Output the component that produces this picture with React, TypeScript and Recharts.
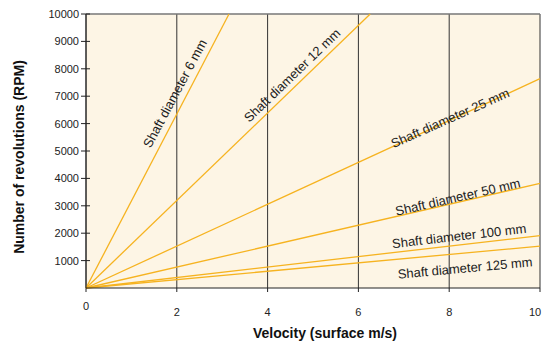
import React from 'react';
import { LineChart, Line, XAxis, YAxis, CartesianGrid, ReferenceLine, ReferenceDot, Label } from 'recharts';

const diameters = ['6', '12', '25', '50', '100', '125'];
const endVelocity = [3.15, 6.26, 10, 10, 10, 10];
const endRpm = [10000, 10000, 7640, 3820, 1910, 1530];
const labelVelocity = [1.96, 4.54, 8.02, 8.19, 8.22, 8.35];
const labelRpm = [7100, 7760, 6200, 3320, 1900, 730];
const labelAngle = [-62, -44, -24, -13, -6.6, -5.3];
const xTicks = [0, 2, 4, 6, 8, 10];
const yTicks = [1000, 2000, 3000, 4000, 5000, 6000, 7000, 8000, 9000, 10000];

const LINE = '#F6B320';
const FONT = '"Liberation Sans", Arial, Helvetica, sans-serif';

const series = diameters.map((d, i) => ({
  name: `Shaft diameter ${d} mm`,
  data: [
    { v: 0, rpm: 0 },
    { v: endVelocity[i], rpm: endRpm[i] },
  ],
}));

const XTick = (props: any) => {
  const { x, y, payload } = props;
  const isZero = payload.value === 0;
  return (
    <text x={x} y={y} dy={isZero ? 16 : 22} textAnchor="middle" fontSize={11} fill="#222" fontFamily={FONT}>
      {payload.value}
    </text>
  );
};

const YTick = (props: any) => {
  const { x, y, payload } = props;
  return (
    <g>
      <line x1={x + 2} x2={x + 11} y1={y} y2={y} stroke="#222" strokeWidth={1} />
      <text x={x} y={y} dy={4} textAnchor="end" fontSize={11} fill="#222" fontFamily={FONT}>
        {payload.value}
      </text>
    </g>
  );
};

const YLabel = (props: any) => {
  const vb = props.viewBox || {};
  const cx = vb.x + 19;
  const cy = vb.y + vb.height / 2 + 6;
  return (
    <text x={cx} y={cy} transform={`rotate(-90, ${cx}, ${cy})`} textAnchor="middle" dominantBaseline="central" fontSize={14} fontWeight="bold" fill="#111" fontFamily={FONT}>
      Number of revolutions (RPM)
    </text>
  );
};

const XLabel = (props: any) => {
  const vb = props.viewBox || {};
  const cx = vb.x + vb.width / 2 + 12;
  const cy = vb.y + 50;
  return (
    <text x={cx} y={cy} textAnchor="middle" fontSize={14} fontWeight="bold" fill="#111" fontFamily={FONT}>
      Velocity (surface m/s)
    </text>
  );
};

export default function App() {
  return (
    <div style={{ position: 'absolute', left: 0, top: 0 }}>
      <LineChart width={543} height={344} margin={{ top: 14, right: 3, bottom: 0, left: 0 }}>
        <CartesianGrid horizontal={false} vertical={true} stroke="#333" fill="#FDF5E5" fillOpacity={1} />
        <XAxis
          type="number"
          dataKey="v"
          domain={[0, 10]}
          ticks={xTicks}
          height={56}
          tickSize={4}
          tick={<XTick />}
          axisLine={{ stroke: '#222' }}
          tickLine={{ stroke: '#222' }}
          allowDuplicatedCategory={false}
        >
          <Label content={<XLabel />} />
        </XAxis>
        <YAxis
          type="number"
          dataKey="rpm"
          domain={[0, 10000]}
          ticks={yTicks}
          width={86}
          tickSize={5}
          tick={<YTick />}
          tickLine={false}
          axisLine={{ stroke: '#222' }}
        >
          <Label content={<YLabel />} />
        </YAxis>
        <ReferenceLine y={10000} stroke="#777" strokeWidth={1.5} />
        {series.map((s) => (
          <Line
            key={s.name}
            data={s.data}
            dataKey="rpm"
            name={s.name}
            stroke={LINE}
            strokeWidth={1.3}
            dot={false}
            activeDot={false}
            isAnimationActive={false}
          />
        ))}
        {series.map((s, i) => (
          <ReferenceDot
            key={`lbl-${i}`}
            x={labelVelocity[i]}
            y={labelRpm[i]}
            r={0}
            shape={(p: any) => (
              <text
                x={p.cx}
                y={p.cy}
                transform={`rotate(${labelAngle[i]}, ${p.cx}, ${p.cy})`}
                textAnchor="middle"
                dominantBaseline="central"
                fontSize={13}
                fill="#222"
                fontFamily={FONT}
              >
                {s.name}
              </text>
            )}
          />
        ))}
      </LineChart>
    </div>
  );
}
